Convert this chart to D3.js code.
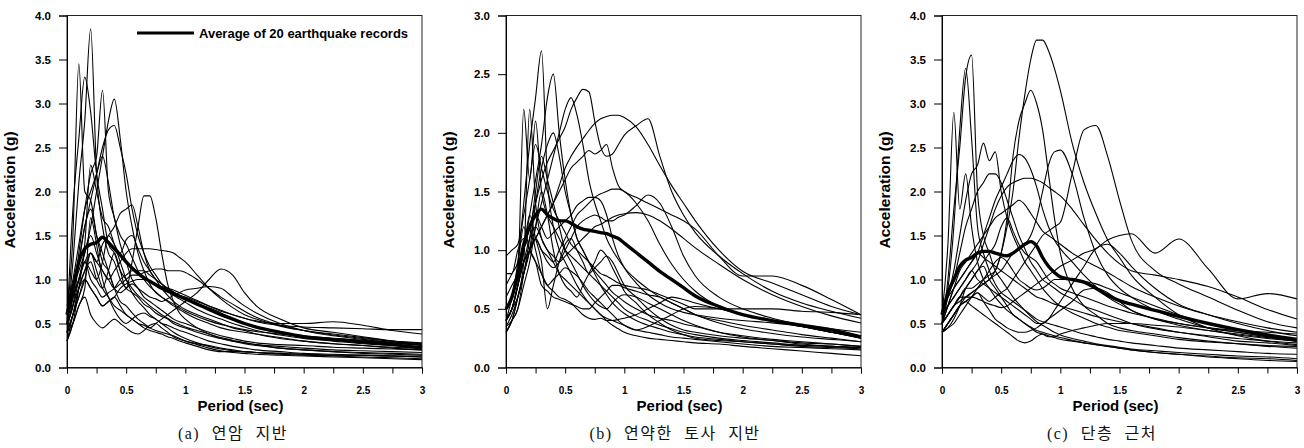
<!DOCTYPE html>
<html>
<head>
<meta charset="utf-8">
<script src="https://cdn.jsdelivr.net/npm/d3@7"></script>
<style>
  body { margin: 0; background: #fff; }
  .tick text { font-family: "Liberation Sans", Arial, sans-serif; font-weight: bold; }
</style>
</head>
<body>
<div id="chart"></div>
<script>
var width = 1304;
var height = 448;

// periods (sec) shared by every spectrum
var periods = [0, 0.05, 0.1, 0.15, 0.2, 0.25, 0.3, 0.35, 0.4, 0.45, 0.5, 0.55, 0.6, 0.65, 0.7, 0.75, 0.8, 0.85, 0.9, 0.95, 1.0,
  1.1, 1.2, 1.3, 1.4, 1.5, 1.6, 1.8, 2.0, 2.25, 2.5, 2.75, 3.0];

// (a) rock site - 20 records
var curvesA = [
  [0.5, 1.2, 2.1, 2.8, 3.85, 2.2, 1.6, 1.3, 1.2, 1.0, 0.9, 0.85, 0.8, 0.72, 0.68, 0.62, 0.58, 0.55, 0.5, 0.47, 0.45, 0.4, 0.36, 0.33, 0.3, 0.28, 0.26, 0.24, 0.22, 0.2, 0.19, 0.18, 0.17],
  [0.6, 1.5, 3.45, 2.0, 1.9, 1.5, 1.2, 1.1, 0.9, 0.75, 0.7, 0.62, 0.55, 0.5, 0.45, 0.42, 0.4, 0.38, 0.36, 0.33, 0.3, 0.26, 0.22, 0.19, 0.17, 0.16, 0.15, 0.14, 0.13, 0.12, 0.11, 0.1, 0.09],
  [0.4, 0.8, 1.3, 1.8, 2.2, 2.4, 3.15, 2.0, 1.7, 1.4, 1.2, 1.0, 0.9, 0.8, 0.75, 0.7, 0.65, 0.6, 0.55, 0.52, 0.5, 0.45, 0.4, 0.36, 0.33, 0.3, 0.28, 0.26, 0.25, 0.23, 0.22, 0.21, 0.2],
  [0.5, 0.7, 1.0, 1.3, 1.6, 2.0, 2.4, 2.8, 3.05, 2.6, 2.0, 1.6, 1.3, 1.1, 0.95, 0.85, 0.8, 0.75, 0.7, 0.66, 0.62, 0.55, 0.5, 0.45, 0.42, 0.4, 0.38, 0.34, 0.3, 0.27, 0.25, 0.23, 0.22],
  [0.6, 0.9, 1.2, 1.6, 1.9, 2.2, 2.5, 2.7, 2.75, 2.5, 2.2, 1.8, 1.5, 1.3, 1.15, 1.05, 0.95, 0.88, 0.82, 0.78, 0.74, 0.66, 0.6, 0.55, 0.5, 0.46, 0.42, 0.37, 0.33, 0.3, 0.27, 0.25, 0.24],
  [0.3, 0.6, 0.9, 1.1, 1.2, 1.0, 0.9, 1.1, 1.3, 1.1, 0.9, 1.2, 1.6, 1.95, 1.95, 1.7, 1.3, 0.95, 0.75, 0.62, 0.55, 0.45, 0.38, 0.33, 0.3, 0.27, 0.25, 0.22, 0.2, 0.18, 0.16, 0.15, 0.14],
  [0.5, 0.8, 1.0, 1.2, 1.3, 1.2, 1.1, 1.0, 1.1, 1.2, 1.3, 1.35, 1.35, 1.35, 1.35, 1.34, 1.33, 1.32, 1.3, 1.25, 1.2, 1.05, 0.9, 0.78, 0.68, 0.6, 0.55, 0.47, 0.42, 0.37, 0.33, 0.3, 0.28],
  [0.4, 0.6, 0.8, 1.0, 0.9, 0.8, 0.7, 0.75, 0.8, 0.7, 0.6, 0.55, 0.5, 0.48, 0.45, 0.5, 0.55, 0.6, 0.65, 0.7, 0.75, 0.85, 1.0, 1.12, 1.05, 0.85, 0.7, 0.55, 0.45, 0.4, 0.35, 0.3, 0.25],
  [0.6, 0.9, 1.1, 1.3, 1.5, 1.3, 1.1, 1.0, 0.9, 0.95, 1.0, 1.05, 1.05, 1.08, 1.1, 1.12, 1.12, 1.1, 1.1, 1.1, 1.08, 1.0, 0.9, 0.8, 0.72, 0.64, 0.57, 0.48, 0.42, 0.38, 0.34, 0.3, 0.27],
  [0.7, 1.0, 1.4, 1.8, 2.0, 2.2, 2.4, 2.1, 1.7, 1.5, 1.4, 1.25, 1.1, 1.0, 0.92, 0.86, 0.8, 0.76, 0.72, 0.68, 0.64, 0.58, 0.53, 0.49, 0.46, 0.43, 0.41, 0.38, 0.35, 0.33, 0.31, 0.29, 0.27],
  [0.5, 1.8, 2.6, 3.3, 2.9, 2.2, 1.8, 1.4, 1.3, 1.1, 1.0, 0.9, 0.82, 0.76, 0.7, 0.65, 0.6, 0.56, 0.52, 0.49, 0.46, 0.42, 0.38, 0.34, 0.31, 0.28, 0.26, 0.22, 0.2, 0.18, 0.17, 0.16, 0.15],
  [0.4, 0.6, 0.9, 1.1, 1.3, 1.2, 1.4, 1.5, 1.6, 1.75, 1.8, 1.85, 1.6, 1.3, 1.1, 1.0, 0.9, 0.82, 0.75, 0.7, 0.66, 0.6, 0.55, 0.5, 0.45, 0.42, 0.38, 0.33, 0.3, 0.27, 0.25, 0.22, 0.2],
  [0.5, 0.7, 0.9, 1.0, 0.9, 0.8, 0.7, 0.75, 0.8, 0.9, 0.95, 0.98, 1.0, 1.0, 0.98, 0.95, 0.92, 0.9, 0.88, 0.85, 0.82, 0.76, 0.7, 0.64, 0.6, 0.56, 0.52, 0.48, 0.46, 0.45, 0.44, 0.43, 0.43],
  [0.6, 0.8, 1.0, 1.2, 1.0, 0.9, 0.8, 0.85, 0.9, 1.0, 1.05, 1.1, 1.1, 1.1, 1.05, 1.0, 0.95, 0.9, 0.86, 0.82, 0.8, 0.75, 0.7, 0.65, 0.6, 0.56, 0.53, 0.5, 0.5, 0.52, 0.48, 0.42, 0.38],
  [0.3, 0.5, 0.7, 0.8, 0.6, 0.5, 0.45, 0.5, 0.55, 0.5, 0.45, 0.4, 0.38, 0.42, 0.48, 0.5, 0.45, 0.4, 0.35, 0.32, 0.3, 0.27, 0.25, 0.22, 0.2, 0.18, 0.17, 0.15, 0.14, 0.13, 0.12, 0.11, 0.1],
  [0.4, 0.6, 0.8, 1.0, 1.3, 1.1, 0.9, 0.8, 0.7, 0.65, 0.6, 0.55, 0.5, 0.45, 0.42, 0.4, 0.38, 0.35, 0.33, 0.3, 0.28, 0.24, 0.2, 0.18, 0.18, 0.18, 0.17, 0.16, 0.15, 0.14, 0.14, 0.13, 0.12],
  [0.5, 0.7, 1.2, 1.6, 1.8, 1.5, 1.3, 1.1, 0.9, 0.85, 0.9, 0.95, 0.9, 0.85, 0.8, 0.78, 0.75, 0.78, 0.82, 0.85, 0.88, 0.9, 0.92, 0.9, 0.8, 0.7, 0.62, 0.5, 0.42, 0.36, 0.32, 0.28, 0.25],
  [0.3, 0.5, 0.9, 1.4, 2.3, 2.0, 1.7, 1.6, 1.4, 1.2, 1.0, 0.85, 0.75, 0.68, 0.6, 0.55, 0.5, 0.48, 0.45, 0.42, 0.4, 0.35, 0.3, 0.27, 0.24, 0.22, 0.2, 0.18, 0.16, 0.15, 0.14, 0.13, 0.12],
  [0.6, 0.8, 1.0, 1.2, 1.1, 1.0, 1.2, 1.5, 1.4, 1.3, 1.45, 1.5, 1.35, 1.2, 1.1, 1.0, 0.95, 0.9, 0.85, 0.8, 0.78, 0.72, 0.68, 0.62, 0.56, 0.5, 0.46, 0.4, 0.36, 0.33, 0.3, 0.28, 0.26],
  [0.4, 0.5, 0.7, 0.9, 1.7, 1.4, 1.0, 0.8, 0.65, 0.55, 0.5, 0.55, 0.6, 0.62, 0.58, 0.55, 0.5, 0.45, 0.4, 0.36, 0.33, 0.28, 0.24, 0.21, 0.19, 0.18, 0.17, 0.16, 0.15, 0.14, 0.14, 0.13, 0.13]
];
var avgA = [0.6, 0.9, 1.2, 1.35, 1.4, 1.42, 1.48, 1.42, 1.35, 1.28, 1.2, 1.13, 1.07, 1.02, 0.98, 0.94, 0.9, 0.87, 0.84, 0.81, 0.78, 0.72, 0.66, 0.6, 0.55, 0.5, 0.46, 0.4, 0.35, 0.32, 0.29, 0.26, 0.22];

// (b) soft soil site - 20 records
var curvesB = [
  [0.4, 0.6, 0.9, 1.4, 1.9, 2.3, 2.7, 1.6, 1.2, 1.0, 0.9, 0.8, 0.7, 0.62, 0.55, 0.5, 0.45, 0.42, 0.4, 0.38, 0.36, 0.32, 0.3, 0.28, 0.26, 0.25, 0.24, 0.22, 0.2, 0.18, 0.17, 0.16, 0.15],
  [0.4, 0.5, 0.7, 1.0, 1.3, 1.6, 1.9, 2.3, 2.5, 2.0, 1.6, 1.3, 1.1, 1.0, 0.9, 0.82, 0.76, 0.7, 0.64, 0.6, 0.56, 0.5, 0.45, 0.42, 0.4, 0.37, 0.35, 0.3, 0.27, 0.24, 0.22, 0.2, 0.18],
  [0.3, 0.4, 0.6, 0.8, 1.0, 1.2, 1.4, 1.6, 1.8, 2.0, 2.2, 2.3, 2.15, 1.9, 1.6, 1.4, 1.25, 1.1, 1.0, 0.92, 0.85, 0.75, 0.67, 0.6, 0.55, 0.5, 0.45, 0.38, 0.33, 0.29, 0.26, 0.24, 0.22],
  [0.5, 0.6, 0.8, 1.0, 1.2, 1.4, 1.6, 1.75, 1.85, 1.95, 2.05, 2.2, 2.3, 2.37, 2.35, 2.1, 1.88, 1.8, 1.82, 1.9, 1.98, 2.06, 2.12, 1.8, 1.5, 1.3, 1.15, 0.95, 0.8, 0.65, 0.55, 0.48, 0.42],
  [0.4, 0.5, 0.7, 0.9, 1.0, 1.1, 1.2, 1.3, 1.4, 1.55, 1.7, 1.8, 1.88, 1.95, 2.02, 2.08, 2.12, 2.14, 2.15, 2.15, 2.13, 2.05, 1.9, 1.72, 1.55, 1.4, 1.25, 1.0, 0.82, 0.72, 0.62, 0.52, 0.45],
  [0.5, 0.6, 0.75, 0.9, 1.0, 1.1, 1.2, 1.3, 1.4, 1.5, 1.6, 1.7, 1.75, 1.8, 1.85, 1.82, 1.85, 1.9, 1.7, 1.55, 1.5, 1.45, 1.4, 1.35, 1.3, 1.25, 1.18, 0.95, 0.78, 0.78, 0.7, 0.58, 0.45],
  [0.4, 0.5, 0.7, 0.9, 1.0, 1.1, 1.0, 0.95, 0.9, 1.0, 1.1, 1.2, 1.3, 1.35, 1.4, 1.45, 1.48, 1.5, 1.52, 1.52, 1.5, 1.4, 1.25, 1.05, 0.88, 0.75, 0.65, 0.52, 0.45, 0.4, 0.36, 0.33, 0.3],
  [0.35, 0.45, 0.6, 0.8, 1.0, 1.1, 1.0, 0.9, 0.85, 0.9, 1.0, 1.1, 1.2, 1.25, 1.28, 1.3, 1.28, 1.25, 1.25, 1.28, 1.3, 1.38, 1.47, 1.4, 1.2, 0.95, 0.78, 0.6, 0.5, 0.42, 0.36, 0.3, 0.26],
  [0.4, 0.5, 0.7, 0.9, 1.1, 1.2, 1.1, 1.0, 0.95, 0.9, 0.95, 1.0, 1.05, 1.1, 1.15, 1.2, 1.22, 1.25, 1.28, 1.3, 1.31, 1.32, 1.3, 1.25, 1.18, 1.1, 1.02, 0.88, 0.75, 0.62, 0.52, 0.44, 0.38],
  [0.5, 0.6, 0.8, 1.0, 1.2, 1.3, 1.2, 1.1, 1.15, 1.2, 1.25, 1.3, 1.38, 1.42, 1.45, 1.45, 1.42, 1.3, 1.1, 0.95, 0.85, 0.72, 0.62, 0.55, 0.5, 0.47, 0.45, 0.42, 0.4, 0.38, 0.35, 0.3, 0.25],
  [0.95, 1.0, 1.05, 1.3, 1.6, 1.9, 1.7, 1.5, 1.35, 1.25, 1.15, 1.05, 1.0, 0.95, 0.9, 0.85, 0.8, 0.78, 0.75, 0.72, 0.7, 0.68, 0.66, 0.62, 0.58, 0.54, 0.5, 0.5, 0.5, 0.5, 0.48, 0.47, 0.45],
  [0.7, 0.8, 0.9, 1.2, 1.0, 0.9, 0.8, 0.7, 0.65, 0.6, 0.58, 0.55, 0.5, 0.45, 0.42, 0.41, 0.42, 0.4, 0.4, 0.41, 0.42, 0.45, 0.5, 0.55, 0.6, 0.58, 0.55, 0.5, 0.45, 0.4, 0.35, 0.3, 0.25],
  [0.4, 0.5, 0.7, 1.0, 1.2, 1.0, 0.8, 0.7, 0.75, 0.8, 0.85, 0.82, 0.78, 0.72, 0.65, 0.6, 0.55, 0.5, 0.45, 0.4, 0.36, 0.32, 0.35, 0.4, 0.45, 0.5, 0.52, 0.5, 0.45, 0.4, 0.35, 0.3, 0.27],
  [0.3, 0.4, 0.6, 0.9, 2.2, 1.4, 1.1, 1.0, 0.9, 0.8, 0.75, 0.7, 0.65, 0.6, 0.55, 0.5, 0.45, 0.4, 0.36, 0.33, 0.3, 0.27, 0.25, 0.24, 0.23, 0.22, 0.21, 0.2, 0.18, 0.16, 0.14, 0.12, 0.1],
  [0.5, 0.6, 0.8, 2.2, 1.6, 2.1, 1.5, 1.3, 1.2, 1.1, 1.0, 0.95, 0.9, 0.85, 0.8, 0.75, 0.7, 0.65, 0.6, 0.55, 0.5, 0.44, 0.4, 0.36, 0.33, 0.3, 0.28, 0.25, 0.23, 0.21, 0.19, 0.18, 0.17],
  [0.35, 0.4, 0.5, 0.7, 0.9, 1.2, 1.5, 1.3, 1.0, 0.8, 0.7, 0.65, 0.6, 0.7, 0.8, 0.9, 1.0, 0.95, 0.85, 0.75, 0.65, 0.55, 0.45, 0.38, 0.32, 0.28, 0.25, 0.23, 0.22, 0.2, 0.19, 0.18, 0.17],
  [0.6, 0.7, 0.8, 1.0, 1.3, 1.1, 0.9, 0.5, 0.7, 0.9, 1.05, 1.1, 1.0, 0.9, 0.8, 0.85, 0.9, 0.95, 0.9, 0.8, 0.7, 0.6, 0.5, 0.42, 0.36, 0.32, 0.3, 0.27, 0.25, 0.23, 0.21, 0.2, 0.18],
  [0.4, 0.5, 0.6, 0.8, 1.0, 1.4, 1.7, 1.9, 2.0, 1.8, 1.5, 1.3, 1.1, 1.0, 0.9, 0.8, 0.7, 0.62, 0.55, 0.5, 0.46, 0.4, 0.36, 0.33, 0.3, 0.28, 0.26, 0.24, 0.22, 0.2, 0.18, 0.17, 0.16],
  [0.8, 0.8, 1.0, 1.1, 1.0, 0.9, 0.7, 0.65, 0.6, 0.58, 0.56, 0.54, 0.52, 0.5, 0.5, 0.55, 0.6, 0.65, 0.7, 0.7, 0.68, 0.65, 0.62, 0.6, 0.55, 0.5, 0.45, 0.4, 0.36, 0.32, 0.28, 0.25, 0.22],
  [0.3, 0.4, 0.5, 0.8, 1.1, 1.5, 1.8, 1.6, 1.4, 1.2, 1.0, 0.9, 0.8, 0.7, 0.62, 0.56, 0.52, 0.5, 0.55, 0.6, 0.62, 0.6, 0.55, 0.5, 0.45, 0.4, 0.36, 0.3, 0.26, 0.23, 0.2, 0.18, 0.17]
];
var avgB = [0.5, 0.6, 0.8, 1.05, 1.2, 1.3, 1.35, 1.3, 1.27, 1.25, 1.25, 1.23, 1.2, 1.18, 1.17, 1.16, 1.15, 1.14, 1.12, 1.1, 1.06, 0.98, 0.9, 0.82, 0.75, 0.68, 0.61, 0.52, 0.45, 0.4, 0.36, 0.32, 0.26];

// (c) near fault - 20 records
var curvesC = [
  [0.5, 0.6, 0.7, 0.8, 0.9, 0.9, 0.95, 1.0, 1.05, 1.1, 1.3, 1.6, 2.0, 2.6, 3.1, 3.5, 3.72, 3.72, 3.6, 3.4, 3.15, 2.55, 2.1, 1.75, 1.45, 1.25, 1.05, 0.8, 0.6, 0.45, 0.36, 0.3, 0.26],
  [0.4, 0.5, 0.6, 0.7, 0.8, 0.85, 0.9, 0.95, 1.0, 1.1, 1.3, 1.7, 2.4, 2.8, 3.0, 3.15, 3.0, 2.7, 2.2, 1.7, 1.3, 0.9, 0.7, 0.6, 0.5, 0.45, 0.42, 0.38, 0.34, 0.3, 0.27, 0.24, 0.22],
  [0.4, 0.5, 0.6, 0.7, 0.75, 0.8, 0.85, 0.8, 0.75, 0.8, 0.85, 0.9, 1.0, 1.1, 1.2, 1.3, 1.4, 1.5, 1.55, 1.6, 1.65, 2.2, 2.7, 2.75, 2.4, 1.9, 1.45, 1.1, 0.95, 0.8, 0.65, 0.52, 0.45],
  [0.5, 0.6, 0.7, 0.8, 0.8, 0.85, 0.9, 0.95, 1.0, 1.05, 1.1, 1.2, 1.3, 1.35, 1.4, 1.5, 1.7, 2.0, 2.3, 2.45, 2.47, 2.2, 1.7, 1.3, 1.05, 0.9, 0.8, 0.65, 0.55, 0.45, 0.4, 0.35, 0.3],
  [0.5, 0.7, 0.9, 1.0, 1.1, 1.2, 1.3, 1.5, 1.7, 1.9, 2.05, 2.2, 2.35, 2.42, 2.38, 2.25, 2.05, 1.8, 1.6, 1.45, 1.35, 1.2, 1.05, 0.92, 0.8, 0.72, 0.65, 0.55, 0.48, 0.42, 0.37, 0.33, 0.3],
  [0.6, 0.7, 0.8, 0.9, 1.0, 1.1, 1.2, 1.4, 1.6, 1.8, 1.95, 2.05, 2.1, 2.13, 2.15, 2.15, 2.13, 2.1, 2.05, 2.0, 1.95, 1.8, 1.62, 1.45, 1.3, 1.18, 1.1, 1.05, 1.0, 0.92, 0.8, 0.66, 0.55],
  [0.5, 0.6, 0.7, 0.75, 0.8, 0.8, 0.78, 0.75, 0.72, 0.7, 0.68, 0.7, 0.75, 0.8, 0.85, 0.9, 0.95, 1.0, 1.05, 1.1, 1.15, 1.22, 1.3, 1.35, 1.45, 1.5, 1.52, 1.3, 1.46, 1.12, 0.78, 0.84, 0.78],
  [0.7, 0.8, 0.9, 1.0, 1.1, 1.2, 1.3, 1.25, 1.2, 1.15, 1.1, 1.05, 1.0, 0.95, 0.9, 0.85, 0.8, 0.78, 0.75, 0.72, 0.7, 0.66, 0.62, 0.58, 0.55, 0.52, 0.5, 0.45, 0.4, 0.35, 0.3, 0.28, 0.25],
  [0.4, 0.45, 0.5, 0.6, 0.7, 0.8, 0.9, 1.0, 1.1, 1.2, 1.25, 1.2, 1.1, 1.0, 0.95, 0.9, 0.88, 0.9, 0.95, 1.0, 1.0, 1.0, 0.98, 0.95, 0.9, 0.85, 0.8, 0.7, 0.6, 0.5, 0.42, 0.36, 0.32],
  [0.5, 1.0, 1.8, 2.5, 3.3, 3.55, 2.0, 1.5, 1.3, 1.1, 1.0, 0.9, 0.8, 0.72, 0.65, 0.58, 0.52, 0.48, 0.44, 0.4, 0.37, 0.33, 0.3, 0.27, 0.25, 0.23, 0.21, 0.19, 0.17, 0.15, 0.13, 0.12, 0.1],
  [0.6, 1.4, 2.9, 1.8, 2.2, 1.6, 1.2, 1.0, 0.9, 0.8, 0.72, 0.65, 0.6, 0.55, 0.5, 0.46, 0.42, 0.4, 0.38, 0.36, 0.34, 0.31, 0.28, 0.26, 0.24, 0.22, 0.2, 0.17, 0.15, 0.13, 0.11, 0.1, 0.08],
  [0.6, 0.9, 1.6, 2.7, 3.4, 2.6, 1.6, 1.3, 1.1, 0.95, 0.85, 0.8, 0.75, 0.7, 0.65, 0.6, 0.55, 0.52, 0.5, 0.48, 0.46, 0.42, 0.38, 0.35, 0.32, 0.3, 0.28, 0.25, 0.22, 0.2, 0.18, 0.16, 0.15],
  [0.5, 0.8, 1.1, 1.5, 1.9, 2.2, 2.3, 2.55, 2.35, 2.45, 2.0, 1.7, 1.5, 1.35, 1.2, 1.1, 1.0, 0.9, 0.82, 0.75, 0.7, 0.62, 0.56, 0.5, 0.46, 0.42, 0.4, 0.36, 0.32, 0.29, 0.27, 0.25, 0.24],
  [0.6, 0.8, 1.0, 1.3, 1.6, 1.8, 2.0, 2.1, 2.2, 2.2, 2.1, 1.9, 1.7, 1.5, 1.35, 1.2, 1.1, 1.0, 0.95, 0.9, 0.85, 0.78, 0.7, 0.65, 0.6, 0.55, 0.5, 0.44, 0.4, 0.36, 0.33, 0.3, 0.28],
  [0.5, 0.7, 0.9, 1.1, 1.2, 1.3, 1.4, 1.5, 1.6, 1.7, 1.75, 1.8, 1.85, 1.9, 1.85, 1.75, 1.65, 1.55, 1.5, 1.45, 1.4, 1.3, 1.22, 1.15, 1.08, 1.0, 0.92, 0.8, 0.7, 0.6, 0.52, 0.45, 0.4],
  [0.4, 0.5, 0.6, 0.7, 0.75, 0.8, 0.85, 0.75, 0.65, 0.55, 0.5, 0.45, 0.42, 0.4, 0.4, 0.42, 0.45, 0.5, 0.55, 0.6, 0.65, 0.75, 0.88, 0.9, 0.85, 0.75, 0.65, 0.55, 0.5, 0.45, 0.4, 0.35, 0.3],
  [0.4, 0.5, 0.6, 0.7, 0.75, 0.7, 0.65, 0.6, 0.55, 0.5, 0.45, 0.4, 0.35, 0.3, 0.28, 0.3, 0.35, 0.38, 0.36, 0.34, 0.32, 0.3, 0.28, 0.26, 0.24, 0.22, 0.2, 0.17, 0.15, 0.12, 0.1, 0.08, 0.07],
  [0.4, 0.45, 0.55, 0.7, 0.9, 1.0, 1.1, 1.15, 1.0, 0.9, 0.8, 0.7, 0.6, 0.55, 0.5, 0.45, 0.4, 0.38, 0.35, 0.35, 0.38, 0.42, 0.45, 0.48, 0.5, 0.5, 0.5, 0.48, 0.46, 0.42, 0.38, 0.34, 0.3],
  [0.6, 0.7, 0.8, 0.9, 1.0, 1.1, 1.0, 0.95, 0.9, 0.85, 0.8, 0.75, 0.7, 0.65, 0.6, 0.55, 0.5, 0.5, 0.55, 0.65, 0.75, 0.95, 1.15, 1.35, 1.4, 1.3, 1.15, 0.9, 0.72, 0.6, 0.5, 0.42, 0.36],
  [0.5, 0.6, 0.7, 0.8, 0.9, 1.0, 1.1, 1.2, 1.3, 1.4, 1.6, 1.7, 1.55, 1.4, 1.3, 1.25, 1.2, 1.1, 1.0, 0.95, 0.9, 0.85, 0.8, 0.75, 0.7, 0.66, 0.62, 0.56, 0.5, 0.45, 0.42, 0.4, 0.38]
];
var avgC = [0.6, 0.85, 1.0, 1.15, 1.22, 1.25, 1.3, 1.32, 1.32, 1.3, 1.28, 1.27, 1.3, 1.35, 1.4, 1.43, 1.38, 1.25, 1.15, 1.08, 1.03, 1.0, 0.97, 0.9, 0.82, 0.76, 0.72, 0.65, 0.58, 0.5, 0.43, 0.37, 0.32];

// axis ticks
var xTicksMajor = [0, 0.5, 1, 1.5, 2, 2.5, 3];
var xTicksAll = [0, 0.25, 0.5, 0.75, 1, 1.25, 1.5, 1.75, 2, 2.25, 2.5, 2.75, 3];
var yTicks4 = [0, 0.5, 1, 1.5, 2, 2.5, 3, 3.5, 4];
var yTicks3 = [0, 0.5, 1, 1.5, 2, 2.5, 3];

var captions = ["(a) 연암 지반", "(b) 연약한 토사 지반", "(c) 단층 근처"];
var legendLabel = "Average of 20 earthquake records";

var svg = d3.select("#chart")
  .append("svg")
  .attr("width", width)
  .attr("height", height)
  .style("background", "#fff");

var plotW = 355;
var plotTop = 15.5;
var plotBottom = 367.5;

function drawPanel(left, ymax, yTicks, curves, avg, caption, captionX, legend) {
  var x = d3.scaleLinear().domain([0, 3]).range([left, left + plotW]);
  var y = d3.scaleLinear().domain([0, ymax]).range([plotBottom, plotTop]);

  var g = svg.append("g");

  var line = d3.line()
    .x((d, i) => x(periods[i]))
    .y(d => y(d))
    .curve(d3.curveMonotoneX);

  // individual records
  g.selectAll("path.rec")
    .data(curves)
    .enter()
    .append("path")
    .attr("class", "rec")
    .attr("d", line)
    .attr("fill", "none")
    .attr("stroke", "#000")
    .attr("stroke-width", 1.1);

  // average of 20 records
  g.append("path")
    .datum(avg)
    .attr("d", line)
    .attr("fill", "none")
    .attr("stroke", "#000")
    .attr("stroke-width", 3.4);

  // frame
  g.append("rect")
    .attr("x", left)
    .attr("y", plotTop)
    .attr("width", plotW)
    .attr("height", plotBottom - plotTop)
    .attr("fill", "none")
    .attr("stroke", "#222")
    .attr("stroke-width", 1);

  var xAxis = d3.axisBottom(x)
    .tickValues(xTicksAll)
    .tickSize(6)
    .tickPadding(13)
    .tickFormat(d => xTicksMajor.indexOf(d) >= 0 ? d3.format("")(d) : "");

  var xg = g.append("g")
    .attr("transform", "translate(0," + plotBottom + ")")
    .call(xAxis);
  xg.selectAll("text").attr("font-size", "10px").attr("fill", "#000");

  var yAxis = d3.axisLeft(y)
    .tickValues(yTicks)
    .tickSize(8)
    .tickPadding(8)
    .tickFormat(d3.format(".1f"));

  var yg = g.append("g")
    .attr("transform", "translate(" + left + ",0)")
    .call(yAxis);
  yg.selectAll("text").attr("font-size", "11.5px").attr("fill", "#000");
  yg.select(".domain").attr("stroke", "#000");

  g.append("text")
    .attr("x", left + plotW / 2 - 4)
    .attr("y", 411)
    .attr("text-anchor", "middle")
    .attr("font-family", "Liberation Sans, Arial, sans-serif")
    .attr("font-weight", "bold")
    .attr("font-size", "15px")
    .text("Period (sec)");

  g.append("text")
    .attr("transform", "translate(" + (left - 52) + "," + 190 + ") rotate(-90)")
    .attr("text-anchor", "middle")
    .attr("font-family", "Liberation Sans, Arial, sans-serif")
    .attr("font-weight", "bold")
    .attr("font-size", "15.5px")
    .text("Acceleration (g)");

  g.append("text")
    .attr("x", captionX)
    .attr("y", 439)
    .attr("text-anchor", "middle")
    .attr("font-family", "Liberation Serif, Noto Sans CJK KR, serif")
    .attr("font-size", "16px")
    .attr("letter-spacing", "1.5px")
    .attr("word-spacing", "6px")
    .attr("fill", "#111")
    .text(caption);

  if (legend) {
    g.append("line")
      .attr("x1", left + 70)
      .attr("x2", left + 127)
      .attr("y1", 33)
      .attr("y2", 33)
      .attr("stroke", "#000")
      .attr("stroke-width", 3);
    g.append("text")
      .attr("x", left + 132)
      .attr("y", 37.5)
      .attr("font-family", "Liberation Sans, Arial, sans-serif")
      .attr("font-weight", "bold")
      .attr("font-size", "13px")
      .text(legendLabel);
  }
}

drawPanel(67, 4, yTicks4, curvesA, avgA, captions[0], 233, true);
drawPanel(506, 3, yTicks3, curvesB, avgB, captions[1], 675, false);
drawPanel(942, 4, yTicks4, curvesC, avgC, captions[2], 1102, false);
</script>
</body>
</html>
